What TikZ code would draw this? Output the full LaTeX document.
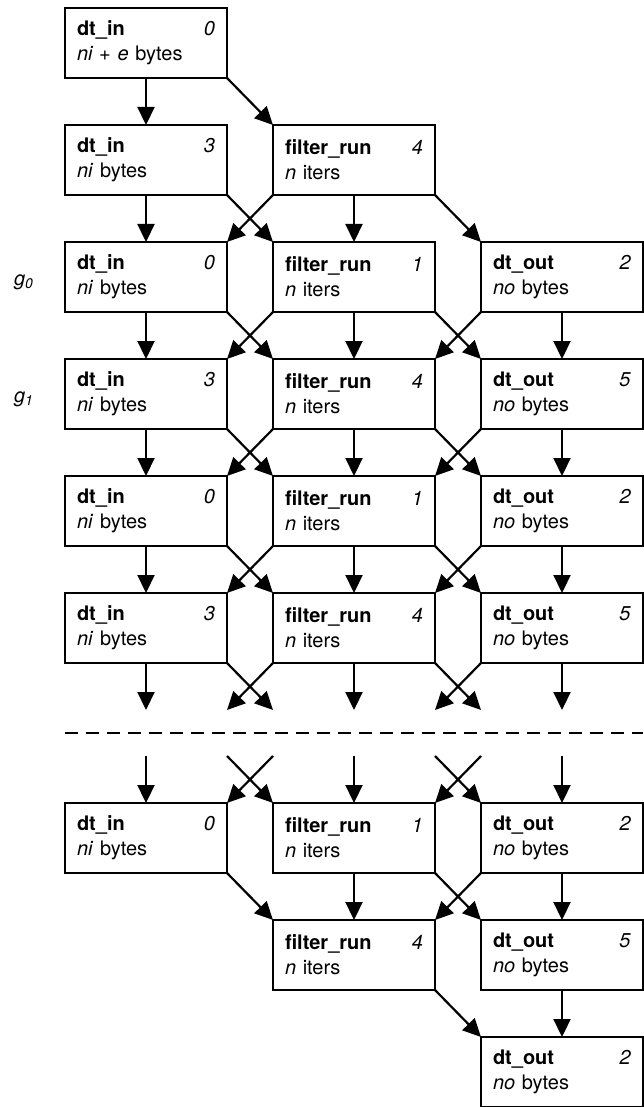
\documentclass[tikz,border=0pt]{standalone}
\usepackage{fontspec}
\setmainfont{TeX Gyre Heros}
\usetikzlibrary{arrows.meta,positioning}

\begin{document}
\begin{tikzpicture}[
    x=1pt, y=1pt,
    task/.style={rectangle, draw, line width=2.2pt, outer sep=0pt, minimum height=70pt, text width=138pt, inner xsep=12pt, align=left, font=\fontsize{20}{25}\selectfont},
    ghost/.style={rectangle, outer sep=0pt, inner sep=0pt, minimum width=162pt, minimum height=46pt},
    arrow/.style={-{Triangle[length=18pt, width=17pt]}, line width=2.2pt},
    group/.style={font=\fontsize{20}{25}\selectfont\itshape}
]
    \useasboundingbox (0,0) rectangle (644,-1107);

    \node[task] (in0) at (146,-43) {\textbf{dt\_in}\hfill\textit{0}\\\textit{ni + e} bytes};

    \node[task, below=47pt of in0] (in1) {\textbf{dt\_in}\hfill\textit{3}\\\textit{ni} bytes};
    \node[task, right=46pt of in1] (run1) {\textbf{filter\_run}\hfill\textit{4}\\\textit{n} iters};

    \node[task, below=47pt of in1] (in2) {\textbf{dt\_in}\hfill\textit{0}\\\textit{ni} bytes};
    \node[task, right=46pt of in2] (run2) {\textbf{filter\_run}\hfill\textit{1}\\\textit{n} iters};
    \node[task, right=46pt of run2] (out2) {\textbf{dt\_out}\hfill\textit{2}\\\textit{no} bytes};
    \node[group, left=28pt of in2, yshift=-5pt] (g0) {g\textsubscript{0}};

    \node[task, below=47pt of in2] (in3) {\textbf{dt\_in}\hfill\textit{3}\\\textit{ni} bytes};
    \node[task, right=46pt of in3] (run3) {\textbf{filter\_run}\hfill\textit{4}\\\textit{n} iters};
    \node[task, right=46pt of run3] (out3) {\textbf{dt\_out}\hfill\textit{5}\\\textit{no} bytes};
    \node[group, left=28pt of in3, yshift=-5pt] (g1) {g\textsubscript{1}};

    \node[task, below=47pt of in3] (in4) {\textbf{dt\_in}\hfill\textit{0}\\\textit{ni} bytes};
    \node[task, right=46pt of in4] (run4) {\textbf{filter\_run}\hfill\textit{1}\\\textit{n} iters};
    \node[task, right=46pt of run4] (out4) {\textbf{dt\_out}\hfill\textit{2}\\\textit{no} bytes};

    \node[task, below=47pt of in4] (in5) {\textbf{dt\_in}\hfill\textit{3}\\\textit{ni} bytes};
    \node[task, right=46pt of in5] (run5) {\textbf{filter\_run}\hfill\textit{4}\\\textit{n} iters};
    \node[task, right=46pt of run5] (out5) {\textbf{dt\_out}\hfill\textit{5}\\\textit{no} bytes};

    % break in the schedule
    \node[ghost, below=47pt of in5] (gin) {};
    \node[ghost, right=46pt of gin] (grun) {};
    \node[ghost, right=46pt of grun] (gout) {};
    \draw[line width=1.8pt, dash pattern=on 13pt off 8pt] (gin.west) -- (gout.east);

    \node[task, below=47pt of gin] (in6) {\textbf{dt\_in}\hfill\textit{0}\\\textit{ni} bytes};
    \node[task, right=46pt of in6] (run6) {\textbf{filter\_run}\hfill\textit{1}\\\textit{n} iters};
    \node[task, right=46pt of run6] (out6) {\textbf{dt\_out}\hfill\textit{2}\\\textit{no} bytes};

    \node[task, below=47pt of run6] (run7) {\textbf{filter\_run}\hfill\textit{4}\\\textit{n} iters};
    \node[task, right=46pt of run7] (out7) {\textbf{dt\_out}\hfill\textit{5}\\\textit{no} bytes};

    \node[task, below=47pt of out7] (out8) {\textbf{dt\_out}\hfill\textit{2}\\\textit{no} bytes};

    \draw[arrow] (in0.south) -- (in1.north);
    \draw[arrow] (in0.south east) -- (run1.north west);

    \draw[arrow] (in1.south) -- (in2.north);
    \draw[arrow] (in1.south east) -- (run2.north west);
    \draw[arrow] (run1.south west) -- (in2.north east);
    \draw[arrow] (run1.south) -- (run2.north);
    \draw[arrow] (run1.south east) -- (out2.north west);

    \draw[arrow] (in2.south) -- (in3.north);
    \draw[arrow] (in2.south east) -- (run3.north west);
    \draw[arrow] (run2.south west) -- (in3.north east);
    \draw[arrow] (run2.south) -- (run3.north);
    \draw[arrow] (run2.south east) -- (out3.north west);
    \draw[arrow] (out2.south west) -- (run3.north east);
    \draw[arrow] (out2.south) -- (out3.north);

    \draw[arrow] (in3.south) -- (in4.north);
    \draw[arrow] (in3.south east) -- (run4.north west);
    \draw[arrow] (run3.south west) -- (in4.north east);
    \draw[arrow] (run3.south) -- (run4.north);
    \draw[arrow] (run3.south east) -- (out4.north west);
    \draw[arrow] (out3.south west) -- (run4.north east);
    \draw[arrow] (out3.south) -- (out4.north);

    \draw[arrow] (in4.south) -- (in5.north);
    \draw[arrow] (in4.south east) -- (run5.north west);
    \draw[arrow] (run4.south west) -- (in5.north east);
    \draw[arrow] (run4.south) -- (run5.north);
    \draw[arrow] (run4.south east) -- (out5.north west);
    \draw[arrow] (out4.south west) -- (run5.north east);
    \draw[arrow] (out4.south) -- (out5.north);

    \draw[arrow] (in5.south) -- (gin.north);
    \draw[arrow] (in5.south east) -- (grun.north west);
    \draw[arrow] (run5.south west) -- (gin.north east);
    \draw[arrow] (run5.south) -- (grun.north);
    \draw[arrow] (run5.south east) -- (gout.north west);
    \draw[arrow] (out5.south west) -- (grun.north east);
    \draw[arrow] (out5.south) -- (gout.north);

    \draw[arrow] (gin.south) -- (in6.north);
    \draw[arrow] (gin.south east) -- (run6.north west);
    \draw[arrow] (grun.south west) -- (in6.north east);
    \draw[arrow] (grun.south) -- (run6.north);
    \draw[arrow] (grun.south east) -- (out6.north west);
    \draw[arrow] (gout.south west) -- (run6.north east);
    \draw[arrow] (gout.south) -- (out6.north);

    \draw[arrow] (in6.south east) -- (run7.north west);
    \draw[arrow] (run6.south) -- (run7.north);
    \draw[arrow] (run6.south east) -- (out7.north west);
    \draw[arrow] (out6.south west) -- (run7.north east);
    \draw[arrow] (out6.south) -- (out7.north);

    \draw[arrow] (run7.south east) -- (out8.north west);
    \draw[arrow] (out7.south) -- (out8.north);
\end{tikzpicture}
\end{document}
